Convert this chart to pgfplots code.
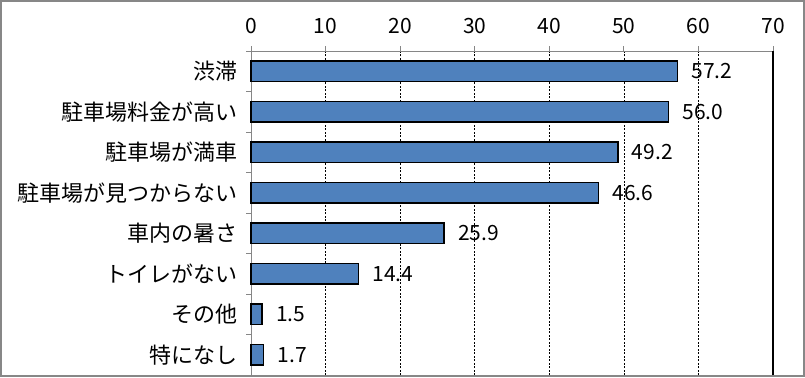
\documentclass[border=0pt]{standalone}
\usepackage{pgfplots}
\pgfplotsset{compat=1.18}
\usepackage{fontspec}
\setmainfont{Noto Sans CJK JP}
\definecolor{barblue}{HTML}{4F81BD}
\definecolor{framegray}{HTML}{878787}
\definecolor{axisgray}{HTML}{868686}
\begin{document}
\begin{tikzpicture}[x=1bp,y=1bp]
\draw[framegray, line width=2bp] (1,1) rectangle (804,376);
\begin{axis}[
  at={(251bp,2bp)}, anchor=south west,
  scale only axis, width=522bp, height=324bp,
  xmin=0, xmax=70, ymin=-0.5, ymax=7.5,
  axis x line*=top, axis y line*=left,
  axis line style={axisgray, line width=1bp},
  /pgf/number format/assume math mode=true,
  xtick={0,10,...,70},
  xticklabel={\fontsize{21bp}{23bp}\selectfont\pgfmathprintnumber{\tick}},
  ytick={0,...,7},
  yticklabels={特になし,その他,トイレがない,車内の暑さ,駐車場が見つからない,駐車場が満車,駐車場料金が高い,渋滞},
  tick align=outside,
  major tick length=5bp,
  xtick style={axisgray, line width=1bp},
  ytick style={draw=none},
  extra y ticks={0.5,1.5,...,7.5},
  extra y tick labels={},
  extra y tick style={ytick style={axisgray, line width=1bp, draw=axisgray}, major tick length=5bp, grid=none},
  xmajorgrids=true,
  grid style={black, line width=0.6bp, dash pattern=on 2bp off 1.5bp},
  xticklabel style={yshift=9bp},
  yticklabel style={font=\fontsize{22bp}{24bp}\selectfont, xshift=-5bp},
  xbar, bar width=0.5,
  clip=false,
  point meta=x,
  nodes near coords={\fontsize{21bp}{23bp}\selectfont\pgfmathprintnumber[fixed,fixed zerofill,precision=1]{\pgfplotspointmeta}},
  nodes near coords style={anchor=west, xshift=10bp, black},
]
\addplot[fill=barblue, draw=black, line width=1.5bp] coordinates {
  (1.7,0) (1.5,1) (14.4,2) (25.9,3) (46.6,4) (49.2,5) (56.0,6) (57.2,7)
};
\draw[black, line width=2bp] (axis cs:70,-0.5) -- (axis cs:70,7.5);
\end{axis}
\end{tikzpicture}
\end{document}
